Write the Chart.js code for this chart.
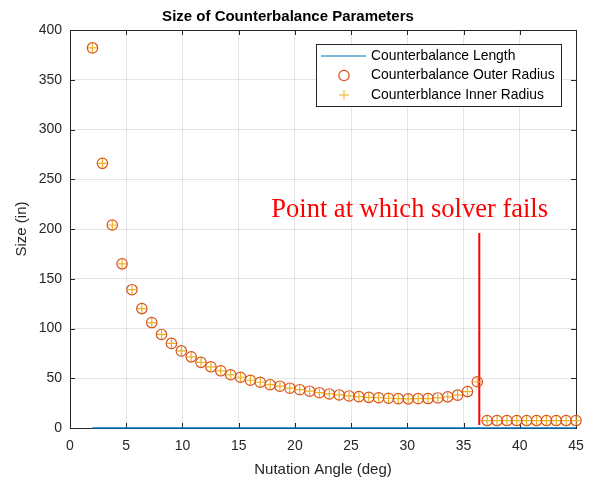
<!DOCTYPE html>
<html lang="en">
<head>
    <meta charset="UTF-8">
    <title>Size of Counterbalance Parameters</title>
    <script src="https://cdn.jsdelivr.net/npm/chart.js"></script>
    <style>
        * { margin: 0; padding: 0; box-sizing: border-box; }
        body { background: #ffffff; }
        .chart-box { width: 591px; height: 480px; position: relative; }
    </style>
</head>
<body>
    <div class="chart-box">
        <canvas id="sizeChart"></canvas>
    </div>

    <script>
        // nutation angle (deg)
        const angles = [2.00, 2.88, 3.76, 4.63, 5.51, 6.39, 7.27, 8.14, 9.02, 9.90,
            10.78, 11.65, 12.53, 13.41, 14.29, 15.16, 16.04, 16.92, 17.80, 18.67,
            19.55, 20.43, 21.31, 22.18, 23.06, 23.94, 24.82, 25.69, 26.57, 27.45,
            28.33, 29.20, 30.08, 30.96, 31.84, 32.71, 33.59, 34.47, 35.35, 36.22,
            37.10, 37.98, 38.86, 39.73, 40.61, 41.49, 42.37, 43.24, 44.12, 45.00];

        const lengthVals = [0, 0, 0, 0, 0, 0, 0, 0, 0, 0,
            0, 0, 0, 0, 0, 0, 0, 0, 0, 0,
            0, 0, 0, 0, 0, 0, 0, 0, 0, 0,
            0, 0, 0, 0, 0, 0, 0, 0, 0, 0,
            0, 0, 0, 0, 0, 0, 0, 0, 0, 0];

        const outerRadius = [382, 266, 204, 165, 139, 120, 106, 94, 85, 77.5,
            71.5, 66, 61.5, 57.5, 53.5, 51, 48, 46, 43.5, 42,
            40, 38.5, 37, 35.5, 34.2, 33.2, 32.2, 31.5, 30.8, 30.4,
            29.9, 29.5, 29.3, 29.5, 29.6, 30.2, 31.3, 33, 36.6, 46.5,
            7.5, 7.5, 7.5, 7.5, 7.5, 7.5, 7.5, 7.5, 7.5, 7.5];

        const innerRadius = [382, 266, 204, 165, 139, 120, 106, 94, 85, 77.5,
            71.5, 66, 61.5, 57.5, 53.5, 51, 48, 46, 43.5, 42,
            40, 38.5, 37, 35.5, 34.2, 33.2, 32.2, 31.5, 30.8, 30.4,
            29.9, 29.5, 29.3, 29.5, 29.6, 30.2, 31.3, 33, 36.6, 46.5,
            7.5, 7.5, 7.5, 7.5, 7.5, 7.5, 7.5, 7.5, 7.5, 7.5];

        // failure marker line
        const failX = [36.4, 36.4];
        const failY = [196, 3];
        const failText = 'Point at which solver fails';
        const failTextAt = [17.9, 212];

        const xTicks = [0, 5, 10, 15, 20, 25, 30, 35, 40, 45];
        const yTicks = [0, 50, 100, 150, 200, 250, 300, 350, 400];

        const axisColor = '#262626';

        function pts(xs, ys) {
            return xs.map((x, i) => ({ x: x, y: ys[i] }));
        }

        // matlab style box with inner ticks, then legend and text label on top
        const matlabDecor = {
            id: 'matlabDecor',
            beforeDatasetsDraw(chart) {
                const ctx = chart.ctx;
                const a = chart.chartArea;
                const xs = chart.scales.x, ys = chart.scales.y;
                ctx.save();
                ctx.strokeStyle = axisColor;
                ctx.lineWidth = 1;
                ctx.beginPath();
                xTicks.forEach(v => {
                    const px = Math.round(xs.getPixelForValue(v)) + 0.5;
                    ctx.moveTo(px, a.bottom); ctx.lineTo(px, a.bottom - 5);
                    ctx.moveTo(px, a.top); ctx.lineTo(px, a.top + 5);
                });
                yTicks.forEach(v => {
                    const py = Math.round(ys.getPixelForValue(v)) + 0.5;
                    ctx.moveTo(a.left, py); ctx.lineTo(a.left + 5, py);
                    ctx.moveTo(a.right, py); ctx.lineTo(a.right - 5, py);
                });
                ctx.stroke();
                ctx.strokeRect(Math.round(a.left) + 0.5, Math.round(a.top) + 0.5,
                    Math.round(a.right - a.left), Math.round(a.bottom - a.top));
                ctx.restore();
            },
            afterDatasetsDraw(chart) {
                const ctx = chart.ctx;
                const xs = chart.scales.x, ys = chart.scales.y;
                ctx.save();

                // annotation text
                ctx.fillStyle = '#ff0000';
                ctx.font = '26.5px "Liberation Serif", "Times New Roman", serif';
                ctx.textBaseline = 'alphabetic';
                ctx.textAlign = 'left';
                ctx.fillText(failText, xs.getPixelForValue(failTextAt[0]), ys.getPixelForValue(failTextAt[1]));

                // legend
                const lx = 316.5, ly = 44.5, lw = 245, lh = 62;
                ctx.fillStyle = '#ffffff';
                ctx.fillRect(lx, ly, lw, lh);
                ctx.strokeStyle = axisColor;
                ctx.lineWidth = 1;
                ctx.strokeRect(lx, ly, lw, lh);
                ctx.font = '13.9px "Liberation Sans", Arial, sans-serif';
                ctx.textBaseline = 'middle';
                const rows = [56, 75.5, 95];
                const sets = chart.data.datasets.slice(0, 3);
                sets.forEach((ds, i) => {
                    const ry = rows[i];
                    ctx.strokeStyle = ds.borderColor;
                    ctx.lineWidth = i === 1 ? 1.2 : 1;
                    ctx.beginPath();
                    if (i === 0) {
                        ctx.moveTo(321, ry); ctx.lineTo(366, ry);
                    } else if (i === 1) {
                        ctx.arc(344, ry, 5.2, 0, Math.PI * 2);
                    } else {
                        ctx.moveTo(339, ry); ctx.lineTo(349, ry);
                        ctx.moveTo(344, ry - 5); ctx.lineTo(344, ry + 5);
                    }
                    ctx.stroke();
                    ctx.fillStyle = '#000000';
                    ctx.fillText(ds.label, 371, ry);
                });
                ctx.restore();
            }
        };

        new Chart(document.getElementById('sizeChart'), {
            type: 'scatter',
            data: {
                datasets: [{
                    label: 'Counterbalance Length',
                    type: 'line',
                    data: pts(angles, lengthVals),
                    borderColor: '#0072BD',
                    borderWidth: 1.5,
                    pointRadius: 0,
                    clip: 3
                }, {
                    label: 'Counterbalance Outer Radius',
                    data: pts(angles, outerRadius),
                    pointStyle: 'circle',
                    pointRadius: 5.2,
                    borderColor: '#D95319',
                    backgroundColor: 'rgba(0,0,0,0)',
                    borderWidth: 1.2,
                    clip: false
                }, {
                    label: 'Counterblance Inner Radius',
                    data: pts(angles, innerRadius),
                    pointStyle: 'cross',
                    pointRadius: 4.5,
                    borderColor: '#EDB120',
                    borderWidth: 1.2,
                    clip: false
                }, {
                    label: 'fail',
                    type: 'line',
                    data: pts(failX, failY),
                    borderColor: '#ff0000',
                    borderWidth: 2,
                    pointRadius: 0
                }]
            },
            options: {
                responsive: true,
                maintainAspectRatio: false,
                animation: false,
                layout: { padding: { left: 0, right: 15, top: 0, bottom: 0 } },
                plugins: {
                    legend: { display: false },
                    tooltip: { enabled: false },
                    title: {
                        display: true,
                        text: 'Size of Counterbalance Parameters',
                        color: '#000000',
                        font: { family: '"Liberation Sans", Arial, sans-serif', size: 15, weight: 'bold' },
                        padding: { top: 8, bottom: 4 }
                    }
                },
                scales: {
                    x: {
                        type: 'linear',
                        min: 0,
                        max: 45,
                        afterBuildTicks: s => { s.ticks = xTicks.map(v => ({ value: v })); },
                        afterFit: s => { s.height = 52; s.paddingLeft = 8; s.paddingRight = 8; },
                        ticks: {
                            color: axisColor,
                            padding: 10,
                            maxRotation: 0,
                            font: { family: '"Liberation Sans", Arial, sans-serif', size: 14 }
                        },
                        grid: { color: 'rgba(38,38,38,0.12)', drawTicks: false },
                        border: { color: axisColor },
                        title: {
                            display: true,
                            text: 'Nutation Angle (deg)',
                            color: axisColor,
                            font: { family: '"Liberation Sans", Arial, sans-serif', size: 15 },
                            padding: { top: 1.5, bottom: 1.5 }
                        }
                    },
                    y: {
                        min: 0,
                        max: 400,
                        afterBuildTicks: s => { s.ticks = yTicks.map(v => ({ value: v })); },
                        afterFit: s => { s.width = 70; },
                        ticks: {
                            color: axisColor,
                            padding: 8,
                            font: { family: '"Liberation Sans", Arial, sans-serif', size: 14 }
                        },
                        grid: { color: 'rgba(38,38,38,0.12)', drawTicks: false },
                        border: { color: axisColor },
                        title: {
                            display: true,
                            text: 'Size (in)',
                            color: axisColor,
                            font: { family: '"Liberation Sans", Arial, sans-serif', size: 15 },
                            padding: { top: 13, bottom: 13 }
                        }
                    }
                }
            },
            plugins: [matlabDecor]
        });
    </script>
</body>
</html>
